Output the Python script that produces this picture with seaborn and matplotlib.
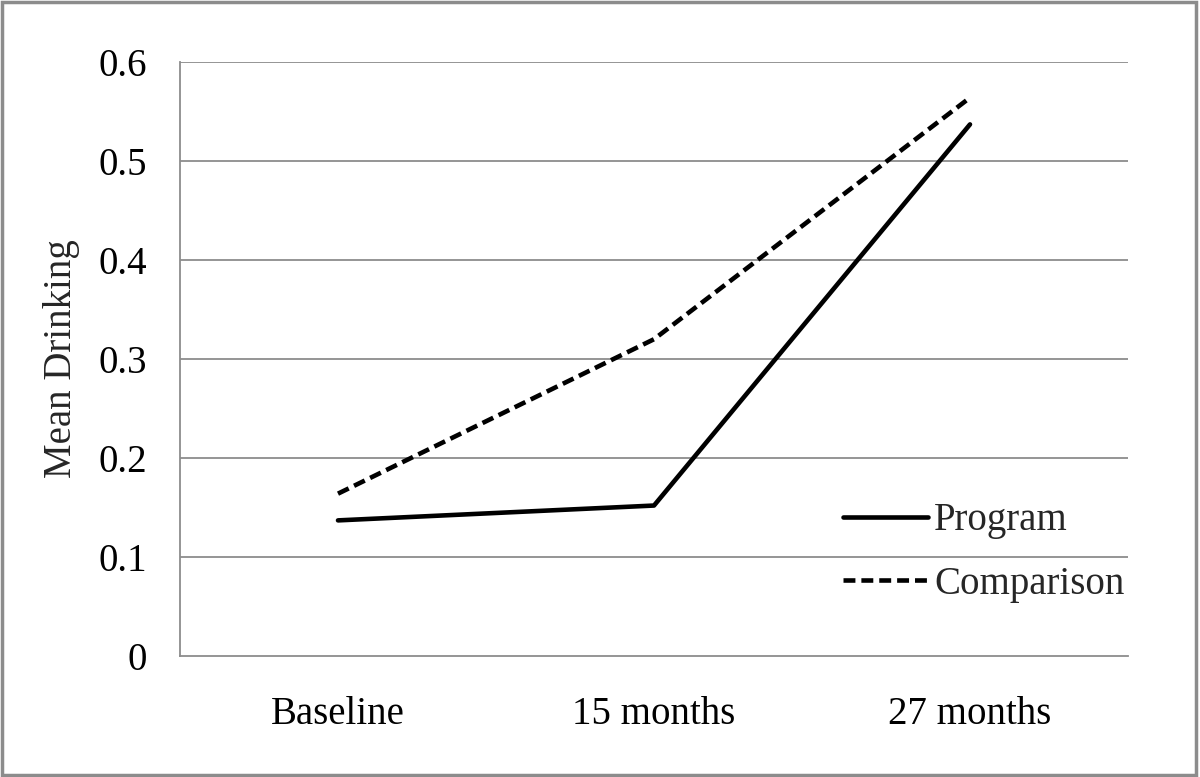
import matplotlib
matplotlib.use("Agg")
import matplotlib.pyplot as plt
import pandas as pd
import seaborn as sns
from matplotlib.patches import Rectangle

# values
time_points = ["Baseline", "15 months", "27 months"]
program = [0.137, 0.152, 0.537]
comparison = [0.164, 0.320, 0.564]
y_ticks = [0, 0.1, 0.2, 0.3, 0.4, 0.5, 0.6]
y_tick_labels = ["0", "0.1", "0.2", "0.3", "0.4", "0.5", "0.6"]

df = pd.DataFrame({
    "time": time_points * 2,
    "value": program + comparison,
    "group": ["Program"] * 3 + ["Comparison"] * 3,
})

sns.set_theme(style="white")
plt.rcParams["font.family"] = ["Liberation Serif", "DejaVu Serif"]

fig = plt.figure(figsize=(12, 7.77), dpi=100)
ax = fig.add_axes([0.15, 0.1557, 0.79, 0.7645])

# horizontal gridlines drawn under the data
for yv in y_ticks[1:]:
    ax.axhline(yv, color="#8c8c8c", lw=1.3, zorder=0)

sns.lineplot(data=df, x="time", y="value", style="group",
             dashes={"Program": "", "Comparison": (2.6, 1.3)},
             color="black", lw=3.3, sort=False, ax=ax, zorder=3)

ax.set_xlim(-0.5, 2.5)
ax.set_ylim(0, 0.6)
ax.set_yticks(y_ticks)
ax.set_yticklabels(y_tick_labels)
ax.tick_params(axis="both", labelsize=28, length=0, colors="black")
ax.tick_params(axis="y", pad=24)
ax.tick_params(axis="x", pad=29)
ax.set_xlabel("")
ax.set_ylabel("Mean Drinking", fontsize=28, labelpad=13)

for side in ["top", "right"]:
    ax.spines[side].set_visible(False)
for side in ["left", "bottom"]:
    ax.spines[side].set_color("#8c8c8c")
    ax.spines[side].set_linewidth(1.3)

leg = ax.legend(loc="lower left", bbox_to_anchor=(0.699, 0.09), frameon=False,
                fontsize=28, handlelength=2.2, handletextpad=0.15,
                labelspacing=0.68, borderpad=0, borderaxespad=0)
for h in leg.get_lines():
    h.set_linewidth(3.3)

# grey border around the whole picture
fig.patches.append(Rectangle((0.002, 0.003), 0.995, 0.994, transform=fig.transFigure,
                             fill=False, edgecolor="#8c8c8c", lw=2.5))

fig.savefig("out.png", dpi=100)
